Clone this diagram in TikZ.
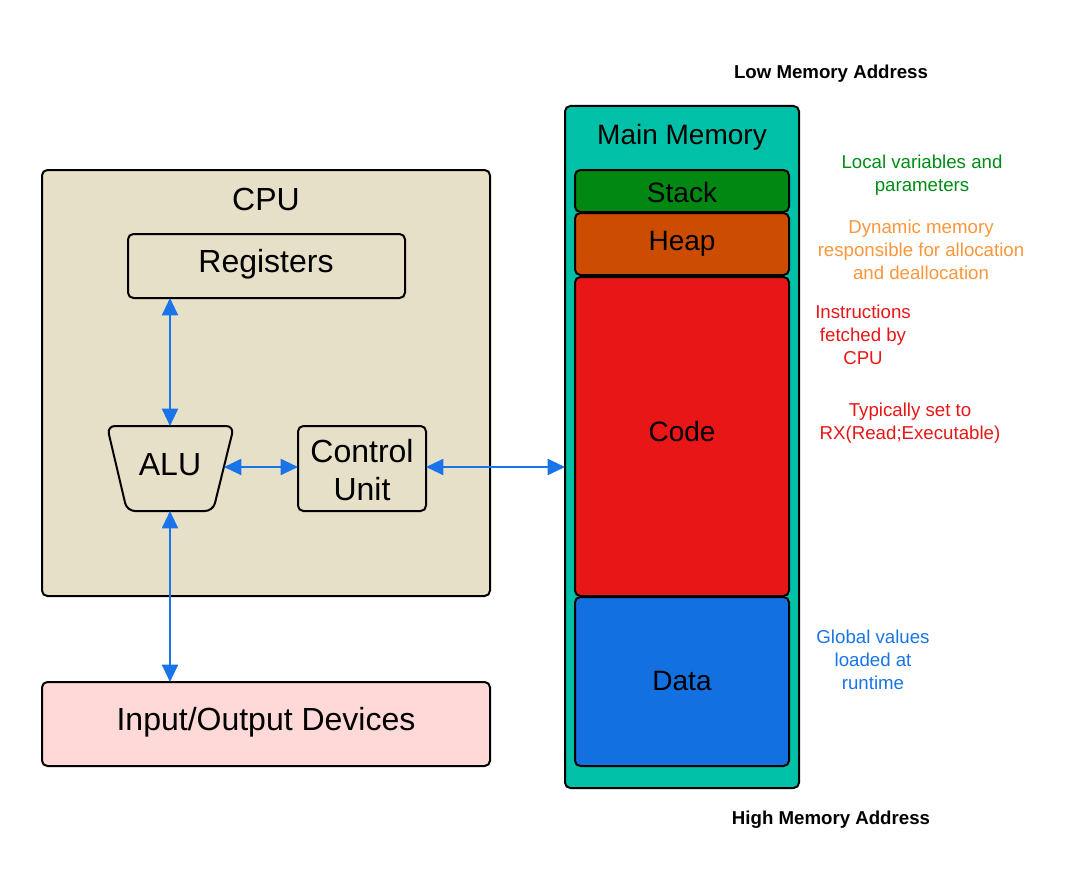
\documentclass[tikz,border=0pt]{standalone}
\usepackage{fontspec}
\setmainfont{Liberation Sans}
\usetikzlibrary{fit,arrows.meta}
\definecolor{cpubg}{RGB}{230,224,200}
\definecolor{iobg}{RGB}{255,216,216}
\definecolor{membg}{RGB}{0,192,168}
\definecolor{stackc}{RGB}{0,136,18}
\definecolor{heapc}{RGB}{204,76,2}
\definecolor{codec}{RGB}{232,22,22}
\definecolor{datac}{RGB}{18,112,224}
\definecolor{arrowc}{RGB}{24,116,232}
\definecolor{noteg}{RGB}{0,140,20}
\definecolor{noteo}{RGB}{250,150,60}
\definecolor{noter}{RGB}{232,22,22}
\definecolor{noteb}{RGB}{24,116,232}
\tikzset{
  box/.style={draw=black, line width=1.5pt, rounded corners=4pt, inner sep=0pt, outer sep=0pt},
  big/.style={font=\fontsize{24}{29}\selectfont, align=center},
  mid/.style={font=\fontsize{21}{25}\selectfont, align=center},
  note/.style={font=\fontsize{14}{17.25}\selectfont, align=center},
  hdr/.style={font=\fontsize{14}{17}\selectfont\bfseries},
  link/.style={draw=arrowc, line width=1.5pt, {Triangle[length=13pt,width=12pt]}-{Triangle[length=13pt,width=12pt]}}
}
\begin{document}
\begin{tikzpicture}[x=0.75pt,y=-0.75pt]
\useasboundingbox (0,0) rectangle (1087,895);
% CPU
\node[box, fill=cpubg, fit={(42,170) (490,596)}] (cpu) {};
\node[big] (cpul) at (266,199) {CPU};
\node[box, fill=cpubg, fit={(128,234) (405,298)}] (reg) {};
\node[big] (regl) at (266,264) {Registers};
\node[box, fill=cpubg, fit={(298,426) (426,511)}] (cu) {};
\node[big] (cul) at (362,470) {Control\\Unit};
\draw[line width=1.5pt, rounded corners=6pt, fill=cpubg] (107,426) -- (234,426) -- (213,511) -- (127,511) -- cycle;
\node[big] (alu) at (170,465) {ALU};
\coordinate (aluT) at (170,426);
\coordinate (aluB) at (170,511);
\coordinate (aluR) at (224,467);
% IO
\node[box, fill=iobg, fit={(42,682) (490,766)}] (io) {};
\node[big] (iol) at (266,722) {Input/Output Devices};
% Memory
\node[box, fill=membg, fit={(565,106) (799,788)}] (mem) {};
\node[mid] (meml) at (682,137) {Main Memory};
\node[box, fill=stackc, fit={(575,170) (789,212)}] (stack) {};
\node[mid] (stackl) at (682,192) {Stack};
\node[box, fill=heapc, fit={(575,213) (789,275)}] (heap) {};
\node[mid] (heapl) at (682,244) {Heap};
\node[box, fill=codec, fit={(575,277) (789,596)}] (code) {};
\node[mid] (codel) at (682,431) {Code};
\node[box, fill=datac, fit={(575,597) (789,766)}] (data) {};
\node[mid] (datal) at (682,681) {Data};
% headers
\node[hdr] (low) at (831,74) {Low Memory Address};
\node[hdr] (high) at (831,820) {High Memory Address};
% notes
\node[note, text=noteg] (n1) at (922,175) {Local variables and\\parameters};
\node[note, text=noteo] (n2) at (921,250) {Dynamic memory\\responsible for allocation\\and deallocation};
\node[note, text=noter] (n3) at (863,335) {Instructions\\fetched by\\CPU};
\node[note, text=noter] (n4) at (910,423) {Typically set to\\RX(Read;Executable)};
\node[note, text=noteb] (n5) at (873,660) {Global values\\loaded at\\runtime};
% connectors
\draw[link] (aluT |- reg.south) -- (aluT);
\draw[link] (aluR) -- (cu.west |- aluR);
\draw[link] (cu.east |- aluR) -- (mem.west |- aluR);
\draw[link] (aluB) -- (aluB |- io.north);
\end{tikzpicture}
\end{document}
